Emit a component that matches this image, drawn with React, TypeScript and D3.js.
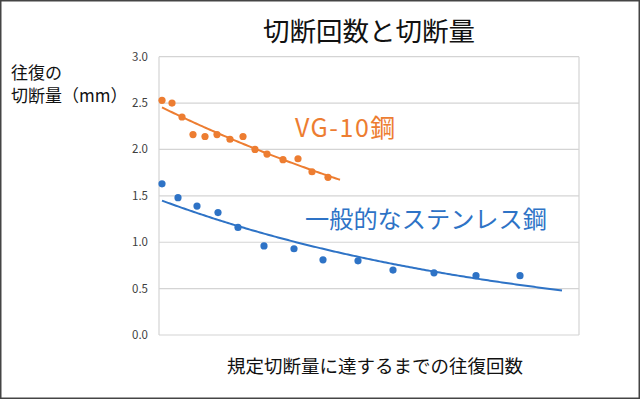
import React from 'react';
import * as d3 from 'd3';

// x: arbitrary repetition count units, y: cut amount (mm)
const vgX = [3, 13, 23, 34, 46, 58, 71, 84, 96, 108, 124, 139, 153, 169];
const vgY = [2.53, 2.50, 2.35, 2.16, 2.14, 2.16, 2.11, 2.14, 2.00, 1.95, 1.89, 1.90, 1.76, 1.70];
const ssX = [3, 19, 38, 59, 79, 105, 135, 164, 199, 234, 275, 317, 361];
const ssY = [1.63, 1.48, 1.39, 1.32, 1.16, 0.96, 0.93, 0.81, 0.80, 0.70, 0.67, 0.64, 0.64];
// trend line end points (forecast beyond last point)
const vgTrendEnd = 182;
const ssTrendEnd = 403;
const yTicks = [0, 0.5, 1.0, 1.5, 2.0, 2.5, 3.0];

const title = '切断回数と切断量';
const yLabel = ['往復の', '切断量（mm）'];
const xLabel = '規定切断量に達するまでの往復回数';
const vgName = 'VG-10鋼';
const ssName = '一般的なステンレス鋼';

const orange = '#ED7D31';
const blue = '#2E73C6';
const font = '"Noto Sans CJK JP", "Noto Sans", sans-serif';

// exponential least-squares fit like a spreadsheet trendline
function expFit(xs: number[], ys: number[]) {
  const n = xs.length;
  const ly = ys.map(v => Math.log(v));
  const mx = d3.mean(xs) as number;
  const my = d3.mean(ly) as number;
  let sxy = 0, sxx = 0;
  for (let i = 0; i < n; i++) {
    sxy += (xs[i] - mx) * (ly[i] - my);
    sxx += (xs[i] - mx) * (xs[i] - mx);
  }
  const b = sxy / sxx;
  const a = Math.exp(my - b * mx);
  return (x: number) => a * Math.exp(b * x);
}

export default function App() {
  const width = 640;
  const height = 399;
  const left = 159;
  const right = 579;
  const top = 56.7;
  const bottom = 335;

  const x = d3.scaleLinear().domain([0, 420]).range([left, right]);
  const y = d3.scaleLinear().domain([0, 3]).range([bottom, top]);

  const vgFit = expFit(vgX, vgY);
  const ssFit = expFit(ssX, ssY);
  const line = d3.line<number[]>().x(d => x(d[0])).y(d => y(d[1]));
  const vgTrend = d3.range(vgX[0], vgTrendEnd + 1, 2).map(v => [v, vgFit(v)]);
  const ssTrend = d3.range(ssX[0], ssTrendEnd + 1, 2).map(v => [v, ssFit(v)]);

  return (
    <svg width={width} height={height} style={{position: 'fixed', left: 0, top: 0, background: 'white'}}>
      <rect x={0.75} y={0.75} width={width - 1.5} height={height - 1.5} fill="white" stroke="#444" strokeWidth={1.5}/>
      <text x={369} y={41} textAnchor="middle" fontFamily={font} fontSize={26.5} fill="#111">{title}</text>

      {yTicks.map(t => (
        <g key={t}>
          <line x1={left} x2={right} y1={y(t)} y2={y(t)} stroke="#d4d4d4" strokeWidth={1.2}/>
          <text x={148} y={y(t) + 4} textAnchor="end" fontFamily={font} fontSize={11.5} fill="#404040">{t.toFixed(1)}</text>
        </g>
      ))}
      <line x1={left} x2={left} y1={top} y2={bottom} stroke="#d4d4d4" strokeWidth={1.2}/>
      <line x1={right} x2={right} y1={top} y2={bottom} stroke="#d4d4d4" strokeWidth={1.2}/>

      <path d={line(vgTrend) || ''} fill="none" stroke={orange} strokeWidth={2}/>
      <path d={line(ssTrend) || ''} fill="none" stroke={blue} strokeWidth={2}/>
      {vgX.map((v, i) => <circle key={'o' + i} cx={x(v)} cy={y(vgY[i])} r={3.6} fill={orange}/>)}
      {ssX.map((v, i) => <circle key={'b' + i} cx={x(v)} cy={y(ssY[i])} r={3.6} fill={blue}/>)}

      <text x={295} y={137} fontFamily={font} fontSize={25} letterSpacing={1.5} fill={orange}>{vgName}</text>
      <text x={305} y={228} fontFamily={font} fontSize={24.2} fill={blue}>{ssName}</text>

      <text fontFamily={font} fontSize={17} fill="#111">
        <tspan x={11} y={79}>{yLabel[0]}</tspan>
        <tspan x={11} y={102}>{yLabel[1]}</tspan>
      </text>
      <text x={375} y={373} textAnchor="middle" fontFamily={font} fontSize={18.5} fill="#111">{xLabel}</text>
    </svg>
  );
}
